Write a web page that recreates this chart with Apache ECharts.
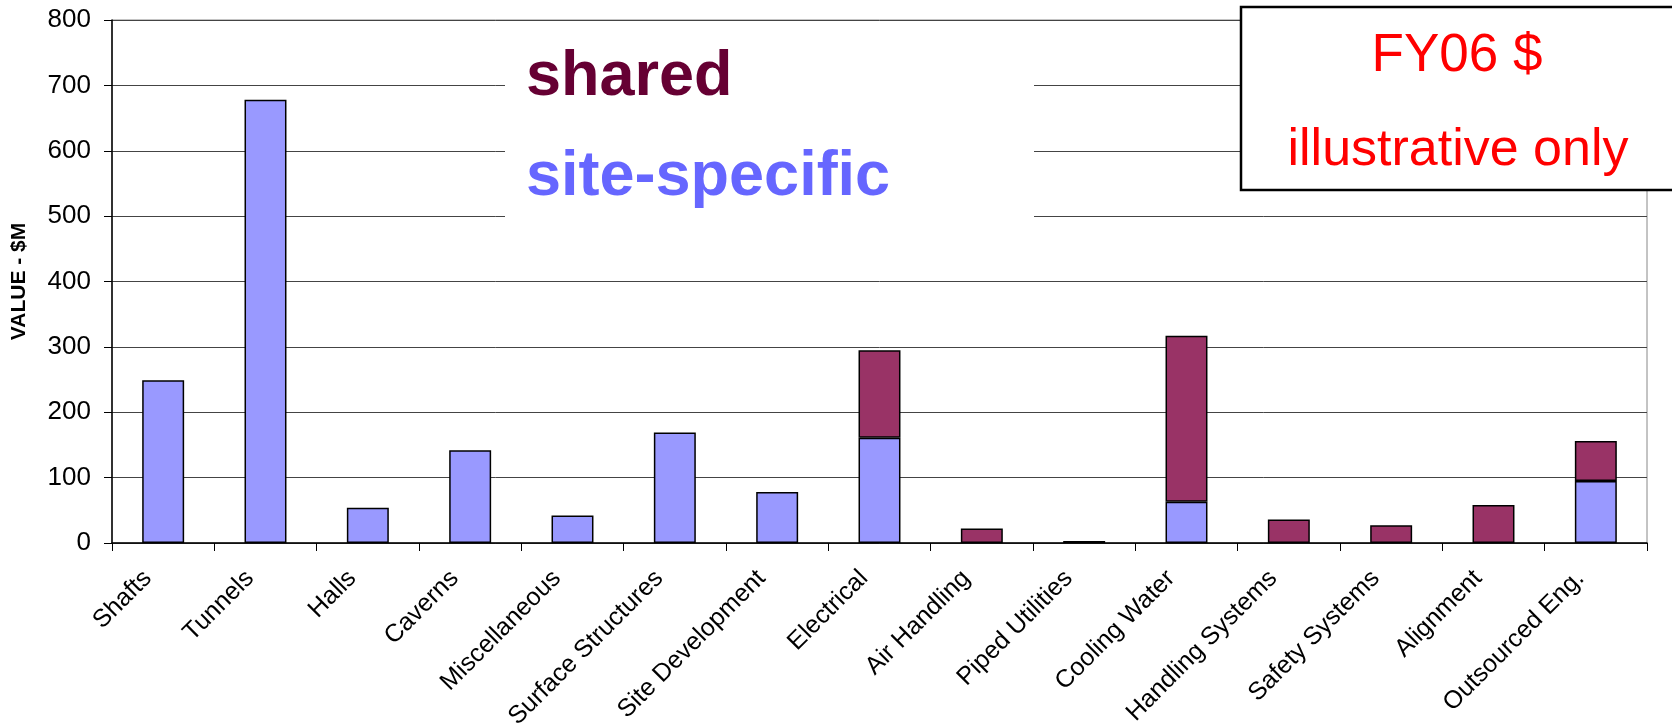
<!DOCTYPE html>
<html>
<head>
<meta charset="utf-8">
<script src="https://cdn.jsdelivr.net/npm/echarts@6/dist/echarts.min.js"></script>
<style>
  html, body { margin: 0; padding: 0; background: #fff; }
  #chart { width: 1672px; height: 724px; }
</style>
</head>
<body>
<div id="chart"></div>
<script>
// 类别与数值
const categories = ['Shafts', 'Tunnels', 'Halls', 'Caverns', 'Miscellaneous', 'Surface Structures',
  'Site Development', 'Electrical', 'Air Handling', 'Piped Utilities', 'Cooling Water',
  'Handling Systems', 'Safety Systems', 'Alignment', 'Outsourced Eng.']
const siteSpecific = [249, 678, 54, 142, 42, 169, 78, 161, null, null, 63, null, null, null, 95]
const shared = [null, null, null, null, null, null, null, 134, 22, 3, 254, 36, 27, 58, 61]
const yTicks = [0, 100, 200, 300, 400, 500, 600, 700, 800]

const font = 'Liberation Sans, Arial, sans-serif'

let option = {
  animation: false,
  backgroundColor: '#fff',
  grid: {
    left: 112, right: 25, top: 20, bottom: 181,
    containLabel: false,
    outerBoundsMode: 'none',
    show: true, borderColor: '#888', borderWidth: 1
  },
  xAxis: {
    type: 'category',
    data: categories,
    axisLine: { lineStyle: { color: '#000', width: 1.5 } },
    axisTick: { show: true, length: 8, lineStyle: { color: '#000' } },
    axisLabel: {
      interval: 0,
      rotate: 45,
      margin: 16,
      padding: [0, 22, 0, 0],
      fontFamily: font,
      fontSize: 25,
      color: '#000'
    }
  },
  yAxis: {
    type: 'value',
    min: yTicks[0],
    max: yTicks[yTicks.length - 1],
    interval: 100,
    name: 'VALUE - $M',
    nameLocation: 'middle',
    nameRotate: 90,
    nameGap: 82,
    nameTextStyle: { fontFamily: font, fontWeight: 'bold', fontSize: 21, color: '#000' },
    axisLine: { show: true, lineStyle: { color: '#000', width: 1.5 } },
    axisTick: { show: true, length: 8, lineStyle: { color: '#000' } },
    axisLabel: { margin: 21, fontFamily: font, fontSize: 26, color: '#000' },
    splitLine: { lineStyle: { color: '#444', width: 1 } }
  },
  series: [
    {
      name: 'site-specific',
      type: 'bar',
      stack: 'total',
      data: siteSpecific,
      barCategoryGap: '59%',
      itemStyle: { color: '#9999FF', borderColor: '#000', borderWidth: 1.5 }
    },
    {
      name: 'shared',
      type: 'bar',
      stack: 'total',
      data: shared,
      itemStyle: { color: '#993366', borderColor: '#000', borderWidth: 1.5 }
    }
  ],
  graphic: [
    // 图例区域（白底遮住网格线）
    { type: 'rect', z: 100, shape: { x: 505, y: 30, width: 529, height: 195 }, style: { fill: '#fff' } },
    { type: 'text', z: 101, x: 526, y: 46, style: { text: 'shared', font: 'bold 63px ' + font, fill: '#660033', verticalAlign: 'top' } },
    { type: 'text', z: 101, x: 526, y: 146, style: { text: 'site-specific', font: 'bold 63px ' + font, fill: '#6666FF', verticalAlign: 'top' } },
    // 右上角说明框
    { type: 'rect', z: 100, shape: { x: 1241, y: 7, width: 480, height: 183 }, style: { fill: '#fff', stroke: '#000', lineWidth: 2.5 } },
    { type: 'text', z: 101, x: 1457, y: 30, style: { text: 'FY06 $', font: '53px ' + font, fill: '#ff0000', align: 'center', verticalAlign: 'top' } },
    { type: 'text', z: 101, x: 1458, y: 125, style: { text: 'illustrative only', font: '52px ' + font, fill: '#ff0000', align: 'center', verticalAlign: 'top' } }
  ]
}

let myChart = echarts.init(document.getElementById('chart'))
myChart.setOption(option)
</script>
</body>
</html>
